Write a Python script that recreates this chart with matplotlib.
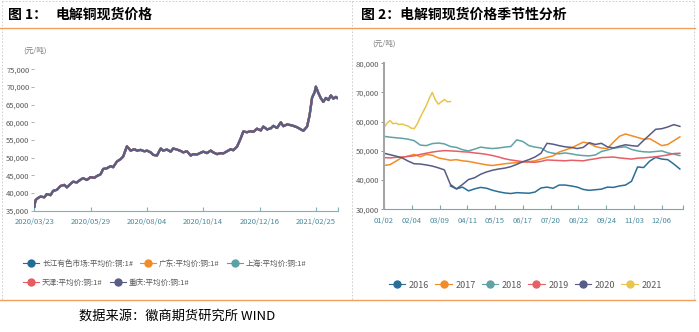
import numpy as np
import matplotlib
matplotlib.use("Agg")
import matplotlib.pyplot as plt
from matplotlib.lines import Line2D

plt.rcParams['font.family'] = ['Noto Sans CJK SC', 'DejaVu Sans']

# ---------------- Data: left chart (trading-day index from 2020/03/23) ----------------
left_days = [0, 1, 3, 5, 8, 10, 13, 15, 18, 21, 24, 26, 29, 31, 34, 37, 39, 42, 45, 48, 50, 53, 55, 58,
             61, 63, 66, 69, 71, 74, 77, 80, 82, 85, 88, 90, 93, 95, 98, 101, 103, 106, 109, 111, 114,
             117, 119, 122, 125, 127, 130, 133, 135, 138, 141, 143, 146, 149, 151, 154, 157, 159, 162,
             165, 167, 170, 173, 175, 178, 181, 183, 186, 189, 191, 194, 197, 199, 202, 205, 207, 210,
             213, 215, 218, 220, 222, 224, 225, 227, 229, 231, 233, 235, 237, 239, 241, 242]
chongqing = [36.1, 38.0, 38.6, 39.0, 38.8, 39.7, 39.4, 40.6, 40.9, 42.0, 42.3, 41.6, 42.6, 43.2, 43.0,
             43.8, 44.2, 43.7, 44.5, 44.3, 44.8, 45.3, 46.8, 47.0, 47.6, 47.3, 48.9, 49.6, 50.3, 53.2,
             52.0, 52.4, 52.0, 52.2, 51.8, 52.0, 51.5, 50.8, 50.6, 52.6, 52.0, 52.3, 51.7, 52.6, 52.3,
             51.9, 51.5, 51.8, 50.6, 51.0, 50.9, 51.4, 51.7, 51.3, 52.0, 51.5, 51.0, 51.3, 51.2, 51.8,
             52.4, 52.1, 53.1, 55.5, 57.4, 57.2, 57.5, 57.3, 58.2, 57.7, 58.8, 58.0, 58.3, 59.0, 58.4,
             60.0, 58.9, 59.4, 59.2, 59.0, 58.6, 58.0, 57.6, 58.8, 62.0, 67.0, 68.5, 70.1, 68.3, 66.8,
             65.8, 66.9, 66.3, 67.6, 66.7, 67.2, 66.9]
# the five regional spot prices are practically identical in the picture
changjiang = list(chongqing)
guangdong = list(chongqing)
shanghai = list(chongqing)
tianjin = list(chongqing)
left_names = ['长江有色市场:平均价:铜:1#', '广东:平均价:铜:1#', '上海:平均价:铜:1#',
              '天津:平均价:铜:1#', '重庆:平均价:铜:1#']
left_colors = ['#1f6d99', '#f28c28', '#5aa3a5', '#e35d62', '#5a5e86']
left_tick_days = [0, 45, 90, 135, 180, 225]
left_tick_labels = ['2020/03/23', '2020/05/29', '2020/08/04', '2020/10/14', '2020/12/16', '2021/02/25']
left_yticks = [35000, 40000, 45000, 50000, 55000, 60000, 65000, 70000, 75000]

# ---------------- Data: right chart (seasonal, trading-day index in year) ----------------
step = 5
y2016_start = 55
y2016 = [38.0, 37.0, 37.6, 36.3, 37.0, 37.5, 37.2, 36.5, 36.0, 35.6, 35.4, 35.7, 35.6, 35.5, 35.9,
         37.3, 37.6, 37.2, 38.3, 38.3, 38.0, 37.6, 36.8, 36.5, 36.7, 36.9, 37.6, 37.5, 38.0, 38.3,
         39.6, 44.5, 44.3, 46.5, 47.8, 47.2, 47.0, 45.5, 43.8]
y2017 = [45.0, 45.3, 46.5, 47.8, 48.2, 48.8, 48.0, 48.8, 48.5, 47.6, 47.2, 46.8, 47.0, 46.6, 46.4,
         46.0, 45.6, 45.2, 45.0, 45.3, 45.6, 45.8, 46.0, 46.2, 46.3, 46.6, 47.2, 47.8, 48.3, 49.6,
         50.3, 51.0, 52.0, 53.0, 52.6, 51.5, 51.0, 50.8, 53.0, 55.0, 55.8, 55.2, 54.6, 54.0, 54.2,
         53.0, 51.8, 52.2, 53.5, 54.8]
y2018 = [55.0, 54.7, 54.5, 54.3, 54.0, 53.5, 52.0, 51.8, 52.5, 52.7, 52.4, 51.5, 51.2, 50.4, 50.0,
         50.6, 51.3, 51.0, 50.8, 51.0, 51.3, 51.5, 53.8, 53.2, 51.8, 51.3, 51.0, 49.7, 49.2, 49.0,
         49.3, 49.0, 48.6, 48.4, 48.3, 48.6, 49.8, 50.3, 50.9, 51.2, 51.4, 50.5, 50.0, 49.7, 49.6,
         49.8, 50.0, 49.3, 48.9, 48.4]
y2019 = [47.7, 47.6, 47.8, 47.9, 48.1, 48.3, 48.8, 49.2, 49.6, 49.9, 50.1, 50.0, 49.9, 49.7, 49.6,
         49.3, 49.1, 48.8, 48.4, 47.9, 47.3, 46.9, 46.6, 46.3, 46.2, 46.1, 46.4, 46.9, 46.8, 46.7,
         46.6, 46.8, 46.7, 46.6, 47.0, 47.3, 47.7, 47.8, 47.9, 47.6, 47.4, 47.2, 47.5, 47.6, 47.8,
         48.0, 48.3, 48.6, 49.1, 49.2]
y2020 = [49.2, 48.7, 48.2, 47.6, 46.5, 45.6, 45.5, 45.2, 44.8, 44.2, 43.5, 38.5, 37.0, 38.5, 40.2,
         40.8, 42.0, 42.8, 43.4, 43.8, 44.1, 44.6, 45.4, 46.3, 47.0, 47.9, 49.2, 52.6, 52.3, 51.8,
         51.4, 51.2, 50.8, 51.2, 52.8, 52.2, 52.6, 51.4, 51.0, 51.6, 52.1, 51.8, 51.6, 53.6, 55.5,
         57.4, 57.6, 58.2, 59.0, 58.4]
step2021 = 2.5
y2021 = [58.0, 59.5, 60.4, 59.3, 59.5, 59.0, 59.2, 58.8, 58.5, 57.8, 57.6, 59.2, 61.5, 63.5, 65.5,
         68.0, 70.0, 67.5, 66.0, 66.8, 67.6, 66.8, 66.9]
season_years = ['2016', '2017', '2018', '2019', '2020', '2021']
season_colors = ['#2a6e97', '#f28c28', '#5fa3a6', '#e65f66', '#575b86', '#e8c54c']
right_tick_days = [0, 23, 46, 69, 92, 115, 138, 161, 184, 207, 230]
right_tick_labels = ['01/02', '02/04', '03/09', '04/11', '05/15', '06/17', '07/20', '08/22',
                     '09/24', '11/03', '12/06']
right_yticks = [30000, 40000, 50000, 60000, 70000, 80000]

# ---------------- Figure ----------------
W, H = 699, 332
fig = plt.figure(figsize=(W / 100, H / 100), dpi=100)


def fx(px):
    return px / W


def fy(py):
    return 1 - py / H


# frame lines
dash = dict(color='#c8c8c8', lw=0.6, ls=(0, (2, 2)), transform=fig.transFigure)
for x in [2, 352, 694]:
    fig.add_artist(Line2D([fx(x), fx(x)], [fy(1), fy(300)], **dash))
fig.add_artist(Line2D([fx(2), fx(694)], [fy(1), fy(1)], **dash))
orange = dict(color='#f0a060', lw=1.0, transform=fig.transFigure)
fig.add_artist(Line2D([0, fx(695)], [fy(28), fy(28)], **orange))
fig.add_artist(Line2D([0, fx(695)], [fy(300), fy(300)], **orange))

# titles
fig.text(fx(8), fy(15), '图 1：', fontsize=10, fontweight='bold', va='center', ha='left')
fig.text(fx(55), fy(15), '电解铜现货价格', fontsize=10, fontweight='bold', va='center', ha='left')
fig.text(fx(361), fy(15), '图 2：电解铜现货价格季节性分析', fontsize=10, fontweight='bold',
         va='center', ha='left')
fig.text(fx(177), fy(316), '数据来源：徽商期货研究所 WIND', fontsize=9.5, va='center', ha='center')

tick_gray = '#595959'
xlab_col = '#4a8a9c'

# ---------------- Left chart ----------------
axL = fig.add_axes([fx(34.3), fy(210.7), fx(338 - 34.3), (210.7 - 69.3) / H])
left_series = [changjiang, guangdong, shanghai, tianjin, chongqing]
for vals, col in zip(left_series, left_colors):
    axL.plot(left_days, np.array(vals) * 1000, color=col, lw=1.6, solid_joinstyle='round')
axL.set_xlim(0, 242.7)
axL.set_ylim(35000, 75000)
axL.set_yticks(left_yticks)
axL.set_yticklabels([f'{v:,}' for v in left_yticks])
axL.set_xticks(left_tick_days + [242.7])
axL.set_xticklabels(left_tick_labels + [''])
for s in ['top', 'right', 'left']:
    axL.spines[s].set_visible(False)
axL.spines['bottom'].set_color('#7fb2b5')
axL.spines['bottom'].set_linewidth(0.8)
axL.tick_params(axis='y', labelsize=5.5, colors='#a0a0a0', labelcolor=tick_gray, length=2.5,
                width=0.6, pad=1)
axL.tick_params(axis='x', labelsize=5.5, colors='#7fb2b5', labelcolor=xlab_col, length=3,
                width=0.8, direction='in', pad=5.5)
fig.text(fx(23), fy(51), '(元/吨)', fontsize=5.5, color='#808080', va='center', ha='left')


def handle(col):
    return Line2D([], [], color=col, lw=0.8, marker='o', markersize=5, markerfacecolor=col,
                  markeredgecolor=col)


leg_kw = dict(frameon=False, fontsize=5.5, handlelength=2.1, handletextpad=0.4,
              columnspacing=0.9, labelcolor='#595959', borderpad=0, borderaxespad=0)
lg1 = fig.legend([handle(c) for c in left_colors[:3]], left_names[:3], ncol=3,
                 loc='center left', bbox_to_anchor=(fx(23), fy(264)), **leg_kw)
lg2 = fig.legend([handle(c) for c in left_colors[3:]], left_names[3:], ncol=2,
                 loc='center left', bbox_to_anchor=(fx(23), fy(283)), **leg_kw)

# ---------------- Right chart ----------------
axR = fig.add_axes([fx(384), fy(209.3), fx(683 - 384), (209.3 - 63.3) / H])
season_data = [
    (y2016_start + step * np.arange(len(y2016)), y2016),
    (step * np.arange(len(y2017)), y2017),
    (step * np.arange(len(y2018)), y2018),
    (step * np.arange(len(y2019)), y2019),
    (step * np.arange(len(y2020)), y2020),
    (step2021 * np.arange(len(y2021)), y2021),
]
for (xs, vals), col in zip(season_data, season_colors):
    axR.plot(xs, np.array(vals) * 1000, color=col, lw=1.1, solid_joinstyle='round')
axR.set_xlim(0, 247.6)
axR.set_ylim(30000, 80000)
axR.set_yticks(right_yticks)
axR.set_yticklabels([f'{v:,}' for v in right_yticks])
axR.set_xticks(right_tick_days + [247.6])
axR.set_xticklabels(right_tick_labels + [''])
for s in ['top', 'right']:
    axR.spines[s].set_visible(False)
axR.spines['left'].set_color('#a6a6a6')
axR.spines['left'].set_linewidth(1.5)
axR.spines['bottom'].set_color('#7aa6b0')
axR.spines['bottom'].set_linewidth(0.8)
axR.tick_params(axis='y', labelsize=5.5, colors='#808080', labelcolor=tick_gray, length=2.5,
                width=0.6, pad=1)
axR.tick_params(axis='x', labelsize=5.5, colors='#7aa6b0', labelcolor=xlab_col, length=3,
                width=0.8, direction='in', pad=5.5)
fig.text(fx(372), fy(44), '(元/吨)', fontsize=5.5, color='#808080', va='center', ha='left')

leg_kw2 = dict(leg_kw)
leg_kw2['fontsize'] = 6.5
leg_kw2['handlelength'] = 1.8
leg_kw2['columnspacing'] = 0.7
fig.legend([handle(c) for c in season_colors], season_years, ncol=6, loc='center left',
           bbox_to_anchor=(fx(389), fy(285)), **leg_kw2)

fig.savefig('out.png', dpi=100)
